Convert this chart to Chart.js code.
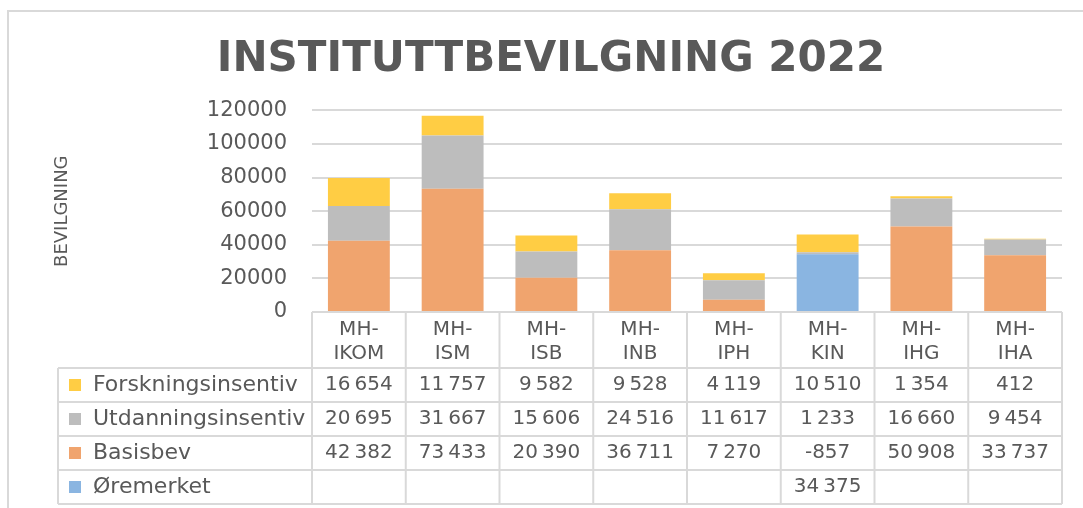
<!DOCTYPE html>
<html>
<head>
<meta charset="utf-8">
<script src="https://cdn.jsdelivr.net/npm/chart.js@4"></script>
<style>
  html, body { margin: 0; padding: 0; background: #fff; }
  #wrap { width: 1083px; height: 508px; }
</style>
</head>
<body>
<div id="wrap"><canvas id="myChart" width="1083" height="508"></canvas></div>
<script>
// data
const categories = [['MH-', 'IKOM'], ['MH-', 'ISM'], ['MH-', 'ISB'], ['MH-', 'INB'], ['MH-', 'IPH'], ['MH-', 'KIN'], ['MH-', 'IHG'], ['MH-', 'IHA']];
const forskning = [16654, 11757, 9582, 9528, 4119, 10510, 1354, 412];
const utdanning = [20695, 31667, 15606, 24516, 11617, 1233, 16660, 9454];
const basisbev = [42382, 73433, 20390, 36711, 7270, -857, 50908, 33737];
const oremerket = [null, null, null, null, null, 34375, null, null];
const yTicks = [0, 20000, 40000, 60000, 80000, 100000, 120000];

const textColor = '#595959';
const lineColor = '#D9D9D9';
const font = 'DejaVu Sans';

function fmt(v) {
    if (v === null || v === undefined) return '';
    const s = String(Math.abs(v)).replace(/\B(?=(\d{3})+(?!\d))/g, '\u2009');
    return (v < 0 ? '-' : '') + s;
}

// bottom to top in the stack
const datasets = [
    { label: 'Øremerket', data: oremerket, backgroundColor: '#8AB5E1' },
    { label: 'Basisbev', data: basisbev, backgroundColor: '#F0A46E' },
    { label: 'Utdanningsinsentiv', data: utdanning, backgroundColor: '#BDBDBD' },
    { label: 'Forskningsinsentiv', data: forskning, backgroundColor: '#FFCD44' }
];

// frame round the whole chart
const framePlugin = {
    id: 'frame',
    beforeDraw(chart) {
        const ctx = chart.ctx;
        ctx.save();
        ctx.strokeStyle = lineColor;
        ctx.lineWidth = 2;
        ctx.strokeRect(8, 11, 1100, 520);
        ctx.restore();
    }
};

// data table under the plot, columns follow the x scale
const tablePlugin = {
    id: 'dataTable',
    afterDraw(chart) {
        const ctx = chart.ctx;
        const x = chart.scales.x;
        const top = chart.chartArea.bottom;
        const headBottom = top + 56;
        const rowH = 34;
        const tableLeft = 58;
        const n = categories.length;
        const step = (x.right - x.left) / n;
        const rows = datasets.slice().reverse();
        const bottom = headBottom + rows.length * rowH;

        ctx.save();
        ctx.strokeStyle = lineColor;
        ctx.lineWidth = 2;
        ctx.beginPath();
        // header box
        ctx.moveTo(x.left, top); ctx.lineTo(x.right, top);
        for (let i = 0; i <= n; i++) {
            const px = x.left + i * step;
            ctx.moveTo(px, top); ctx.lineTo(px, bottom);
        }
        ctx.moveTo(tableLeft, headBottom); ctx.lineTo(tableLeft, bottom);
        for (let r = 0; r <= rows.length; r++) {
            const py = headBottom + r * rowH;
            ctx.moveTo(tableLeft, py); ctx.lineTo(x.right, py);
        }
        ctx.stroke();

        ctx.fillStyle = textColor;
        ctx.font = '20px "' + font + '"';
        ctx.textAlign = 'center';
        ctx.textBaseline = 'middle';
        categories.forEach((lab, i) => {
            const cx = x.getPixelForValue(i);
            ctx.fillText(lab[0], cx, top + 18);
            ctx.fillText(lab[1], cx, top + 42);
        });

        rows.forEach((ds, r) => {
            const cy = headBottom + r * rowH + rowH / 2;
            ctx.fillStyle = ds.backgroundColor;
            ctx.fillRect(tableLeft + 11, cy - 6, 12, 12);
            ctx.fillStyle = textColor;
            ctx.textAlign = 'left';
            ctx.font = '22px "' + font + '"';
            ctx.fillText(ds.label, tableLeft + 35, cy);
            ctx.textAlign = 'center';
            ctx.font = '20px "' + font + '"';
            ds.data.forEach((v, i) => {
                ctx.fillText(fmt(v), x.getPixelForValue(i), cy);
            });
        });
        ctx.restore();
    }
};

const canvas = document.getElementById('myChart').getContext('2d');

new Chart(canvas, {
    type: 'bar',
    data: {
        labels: categories,
        datasets: datasets
    },
    options: {
        responsive: false,
        animation: false,
        layout: { padding: { left: 40, right: 21, top: 0, bottom: 196 } },
        datasets: { bar: { barPercentage: 0.66, categoryPercentage: 1 } },
        plugins: {
            legend: { display: false },
            tooltip: { enabled: false },
            title: {
                display: true,
                text: 'INSTITUTTBEVILGNING 2022',
                color: textColor,
                font: { family: font, size: 42, weight: 'bold' },
                padding: { top: 35, bottom: 25 }
            }
        },
        scales: {
            x: {
                stacked: true,
                display: false
            },
            y: {
                stacked: true,
                min: 0,
                max: 120000,
                afterBuildTicks(scale) {
                    scale.ticks = yTicks.map(v => ({ value: v }));
                },
                afterFit(scale) {
                    scale.width = 312 - 40;
                },
                border: { display: false },
                grid: { color: lineColor, lineWidth: 2, drawTicks: false },
                ticks: {
                    color: textColor,
                    padding: 25,
                    font: { family: font, size: 21 },
                    callback: v => String(v)
                },
                title: {
                    display: true,
                    text: 'BEVILGNING',
                    color: textColor,
                    font: { family: font, size: 18 },
                    padding: { top: 12, bottom: 0 }
                }
            }
        }
    },
    plugins: [framePlugin, tablePlugin]
});
</script>
</body>
</html>
